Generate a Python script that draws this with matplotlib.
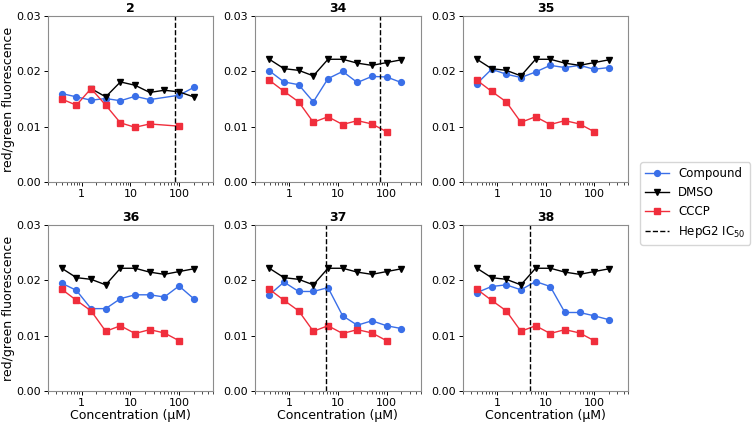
import matplotlib
matplotlib.use('Agg')
import matplotlib.pyplot as plt
import numpy as np

# concentraciones (µM)
conc = [0.39, 0.78, 1.56, 3.125, 6.25, 12.5, 25, 50, 100, 200]
conc_cccp = [0.39, 0.78, 1.56, 3.125, 6.25, 12.5, 25, 50, 100]

paneles = ['2', '34', '35', '36', '37', '38']

# compuesto (panel 2 sin punto a 50 µM)
conc_p2 = [0.39, 0.78, 1.56, 3.125, 6.25, 12.5, 25, 100, 200]
comp_2 = [0.0160, 0.0154, 0.0148, 0.0151, 0.0147, 0.0155, 0.0149, 0.0157, 0.0171]
comp_34 = [0.0201, 0.0181, 0.0176, 0.0145, 0.0187, 0.0200, 0.0180, 0.0191, 0.0190, 0.0180]
comp_35 = [0.0178, 0.0204, 0.0195, 0.0189, 0.0199, 0.0211, 0.0207, 0.0211, 0.0204, 0.0207]
comp_36 = [0.0195, 0.0182, 0.0149, 0.0149, 0.0167, 0.0174, 0.0174, 0.0170, 0.0190, 0.0167]
comp_37 = [0.0174, 0.0197, 0.0180, 0.0180, 0.0187, 0.0136, 0.0119, 0.0127, 0.0118, 0.0113]
comp_38 = [0.0178, 0.0189, 0.0192, 0.0183, 0.0198, 0.0189, 0.0142, 0.0142, 0.0136, 0.0129]

# DMSO
conc_dmso_2 = [1.56, 3.125, 6.25, 12.5, 25, 50, 100, 200]
dmso_2 = [0.0169, 0.0154, 0.0181, 0.0175, 0.0162, 0.0166, 0.0163, 0.0154]
dmso = [0.0222, 0.0205, 0.0202, 0.0192, 0.0222, 0.0222, 0.0215, 0.0211, 0.0216, 0.0221]

# CCCP
conc_cccp_2 = [0.39, 0.78, 1.56, 3.125, 6.25, 12.5, 25, 100]
cccp_2 = [0.0150, 0.0139, 0.0169, 0.0139, 0.0107, 0.0099, 0.0105, 0.0101]
cccp = [0.0184, 0.0164, 0.0145, 0.0108, 0.0118, 0.0104, 0.0111, 0.0105, 0.0091]

# IC50 HepG2 (None = fuera de rango)
ic50 = {'2': 81, '34': 72, '35': None, '36': None, '37': 5.6, '38': 4.8}

datos = {
    '2': (conc_p2, comp_2, conc_dmso_2, dmso_2, conc_cccp_2, cccp_2),
    '34': (conc, comp_34, conc, dmso, conc_cccp, cccp),
    '35': (conc, comp_35, conc, dmso, conc_cccp, cccp),
    '36': (conc, comp_36, conc, dmso, conc_cccp, cccp),
    '37': (conc, comp_37, conc, dmso, conc_cccp, cccp),
    '38': (conc, comp_38, conc, dmso, conc_cccp, cccp),
}

color_comp = '#3a6fe8'
color_cccp = '#f02e3c'

fig, axes = plt.subplots(2, 3, figsize=(7.56, 4.25), dpi=100)
fig.subplots_adjust(left=0.063, right=0.831, top=0.962, bottom=0.08,
                    wspace=0.255, hspace=0.26)

for ax, nombre in zip(axes.flat, paneles):
    xc, yc, xd, yd, xr, yr = datos[nombre]
    ax.plot(xc, yc, '-o', color=color_comp, markersize=4.2, linewidth=1,
            label='Compound')
    ax.plot(xd, yd, '-v', color='black', markersize=4.2, linewidth=1,
            label='DMSO')
    ax.plot(xr, yr, '-s', color=color_cccp, markersize=4.2, linewidth=1,
            label='CCCP')
    if ic50[nombre] is not None:
        ax.axvline(ic50[nombre], color='black', linestyle='--', linewidth=1,
                   label='HepG2 IC$_{50}$')
    ax.set_xscale('log')
    ax.set_xlim(0.2, 500)
    ax.set_ylim(0, 0.03)
    ax.set_yticks([0, 0.01, 0.02, 0.03])
    ax.set_yticklabels(['0.00', '0.01', '0.02', '0.03'])
    ax.set_xticks([1, 10, 100])
    ax.set_xticklabels(['1', '10', '100'])
    ax.tick_params(labelsize=8, length=3, width=0.7, pad=2)
    ax.tick_params(which='minor', length=1.8, width=0.5)
    for s in ax.spines.values():
        s.set_color('0.55')
        s.set_linewidth(0.8)
    ax.set_title(nombre, fontsize=9, fontweight='bold', pad=3)

for ax in axes[:, 0]:
    ax.set_ylabel('red/green fluorescence', fontsize=9)
    ax.yaxis.set_label_coords(-0.2, 0.5)
for ax in axes[1, :]:
    ax.set_xlabel('Concentration (µM)', fontsize=9, labelpad=1)

handles, labels = axes[0, 0].get_legend_handles_labels()
fig.legend(handles, labels, loc='center left', bbox_to_anchor=(0.839, 0.521),
           fontsize=8.5, frameon=True, handlelength=2)

plt.savefig('out.png', dpi=100)
